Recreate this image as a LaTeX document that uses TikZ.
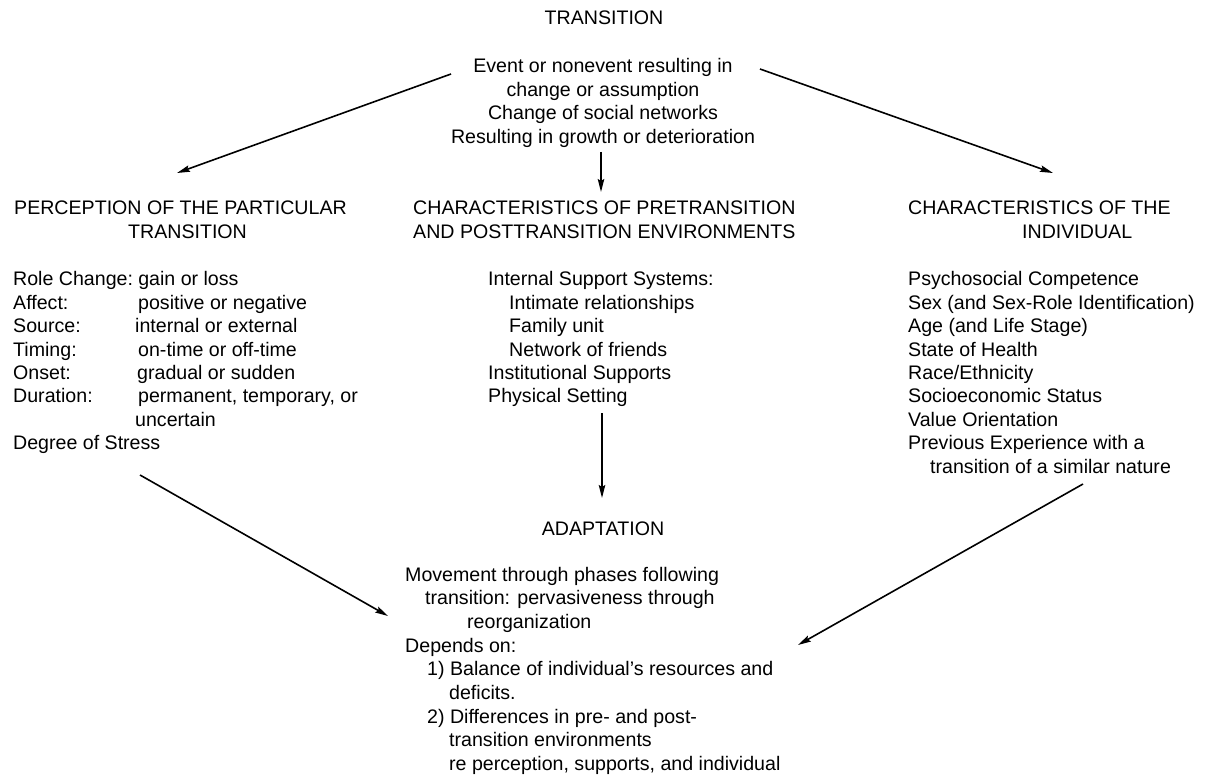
\documentclass[tikz,border=0pt]{standalone}
\usepackage{fontspec}
\setmainfont{Liberation Sans}
\usetikzlibrary{arrows.meta}
\begin{document}
\begin{tikzpicture}[x=1pt,y=-1pt,
  txt/.style={inner sep=0pt, anchor=base west, font=\fontsize{19.6}{23.4}\selectfont},
  arr/.style={line width=1.6pt, -{Stealth[length=13pt,width=6.5pt,inset=2pt]}}]
\useasboundingbox (0,0) rectangle (1208,778);

\node[txt, anchor=base] (title) at (604,25) {TRANSITION};
\node[txt, anchor=base] (event) at (603,73) {\begin{tabular}[t]{@{}c@{}}Event or nonevent resulting in\\change or assumption\\Change of social networks\\Resulting in growth or deterioration\end{tabular}};

\node[txt] (percHead) at (14,215) {\begin{tabular}[t]{@{}l@{}}PERCEPTION OF THE PARTICULAR\\\hspace{114pt}TRANSITION\end{tabular}};
\node[txt] (envHead) at (413,215) {\begin{tabular}[t]{@{}l@{}}CHARACTERISTICS OF PRETRANSITION\\AND POSTTRANSITION ENVIRONMENTS\end{tabular}};
\node[txt] (indHead) at (908,215) {\begin{tabular}[t]{@{}l@{}}CHARACTERISTICS OF THE\\\hspace{114pt}INDIVIDUAL\end{tabular}};

\node[txt] (percList) at (13,286) {\begin{tabular}[t]{@{}p{122pt}@{}l@{}}
\multicolumn{2}{@{}l@{}}{Role Change:\hspace{-2pt} gain or loss}\\
Affect: & \hspace{3pt}positive or negative\\
Source: & internal or external\\
Timing: & \hspace{3pt}on-time or off-time\\
Onset: & \hspace{2pt}gradual or sudden\\
Duration: & \hspace{3pt}permanent, temporary, or\\
 & uncertain\\
\multicolumn{2}{@{}l@{}}{Degree of Stress}
\end{tabular}};

\node[txt] (envList) at (488,286) {\begin{tabular}[t]{@{}l@{}}
Internal Support Systems:\\
\hspace{21pt}Intimate relationships\\
\hspace{21pt}Family unit\\
\hspace{21pt}Network of friends\\
Institutional Supports\\
Physical Setting
\end{tabular}};

\node[txt] (indList) at (908,286) {\begin{tabular}[t]{@{}l@{}}
Psychosocial Competence\\
Sex (and Sex-Role Identification)\\
Age (and Life Stage)\\
State of Health\\
Race/Ethnicity\\
Socioeconomic Status\\
Value Orientation\\
Previous Experience with a\\
\hspace{22pt}transition of a similar nature
\end{tabular}};

\node[txt, anchor=base] (adaptHead) at (603,535) {ADAPTATION};
\node[txt, font=\fontsize{19.6}{23.7}\selectfont] (adaptList) at (405,581) {\begin{tabular}[t]{@{}l@{}}
Movement through phases following\\
\hspace{20pt}transition: pervasiveness through\\
\hspace{62pt}reorganization\\
Depends on:\\
\hspace{22pt}1) Balance of individual’s resources and\\
\hspace{44pt}deficits.\\
\hspace{22pt}2) Differences in pre- and post-\\
\hspace{44pt}transition environments\\
\hspace{44pt}re perception, supports, and individual
\end{tabular}};

\coordinate (a1s) at (451,74);   \coordinate (a1e) at (177,173);
\coordinate (a2s) at (760,69);   \coordinate (a2e) at (1053,173);
\coordinate (a3s) at (601,152);  \coordinate (a3e) at (601,192);
\coordinate (a4s) at (602,413);  \coordinate (a4e) at (602,498);
\coordinate (a5s) at (140,475);  \coordinate (a5e) at (388,616);
\coordinate (a6s) at (1083,484); \coordinate (a6e) at (798,645);

\draw[arr] (a1s) -- (a1e);
\draw[arr] (a2s) -- (a2e);
\draw[arr] (a3s) -- (a3e);
\draw[arr] (a4s) -- (a4e);
\draw[arr] (a5s) -- (a5e);
\draw[arr] (a6s) -- (a6e);
\end{tikzpicture}
\end{document}
